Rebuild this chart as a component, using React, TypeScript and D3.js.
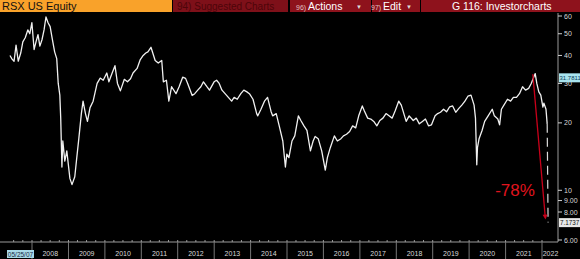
import React from "react";
import * as d3 from "d3";

const dates: string[] = [
  "2007-05-25","2007-06-15","2007-07-05","2007-07-25","2007-08-16","2007-09-10","2007-10-01","2007-10-25","2007-11-20","2007-12-10","2007-12-31",
  "2008-01-22","2008-02-10","2008-03-01","2008-03-20","2008-04-10","2008-05-01","2008-05-20","2008-06-10","2008-07-01","2008-07-20","2008-08-15","2008-09-05","2008-09-20","2008-10-06","2008-10-15","2008-10-27","2008-11-05","2008-11-25","2008-12-15",
  "2009-01-15","2009-02-05","2009-03-05","2009-03-25","2009-04-15","2009-05-10","2009-05-27","2009-06-20","2009-07-10","2009-08-05","2009-09-05","2009-10-15","2009-11-15","2009-12-15",
  "2010-01-20","2010-02-10","2010-03-10","2010-04-12","2010-05-07","2010-06-05","2010-07-15","2010-08-15","2010-09-15","2010-10-10","2010-11-20","2010-12-20",
  "2011-01-20","2011-02-15","2011-03-08","2011-04-08","2011-05-20","2011-06-20","2011-07-25","2011-08-10","2011-09-10","2011-10-04","2011-11-01","2011-12-15",
  "2012-01-15","2012-02-20","2012-03-20","2012-04-10","2012-05-25","2012-06-20","2012-07-20","2012-08-20","2012-09-15","2012-10-20","2012-11-15","2012-12-31",
  "2013-01-25","2013-02-20","2013-03-20","2013-04-20","2013-06-25","2013-07-20","2013-08-20","2013-09-25","2013-10-25","2013-11-25","2013-12-20",
  "2014-01-25","2014-03-03","2014-03-14","2014-04-15","2014-05-20","2014-06-20","2014-07-25","2014-08-10","2014-09-15","2014-10-15","2014-11-20","2014-12-16","2014-12-30",
  "2015-01-20","2015-02-20","2015-03-20","2015-04-25","2015-05-20","2015-06-20","2015-07-20","2015-08-24","2015-09-20","2015-10-10","2015-11-10","2015-12-15",
  "2016-01-20","2016-02-10","2016-03-10","2016-04-20","2016-05-20","2016-06-25","2016-07-20","2016-08-20","2016-09-20","2016-10-20","2016-11-20","2016-12-20",
  "2017-01-25","2017-02-15","2017-03-20","2017-04-20","2017-05-20","2017-06-20","2017-07-20","2017-08-20","2017-09-20","2017-10-20","2017-11-20","2017-12-20",
  "2018-01-25","2018-02-20","2018-04-10","2018-05-10","2018-06-20","2018-07-20","2018-08-20","2018-09-20","2018-10-20","2018-11-20","2018-12-20",
  "2019-01-25","2019-02-20","2019-03-20","2019-04-20","2019-05-20","2019-06-20","2019-07-20","2019-08-20","2019-09-20","2019-10-20","2019-11-20","2019-12-20",
  "2020-01-20","2020-02-20","2020-03-05","2020-03-18","2020-03-25","2020-04-10","2020-05-10","2020-06-05","2020-07-10","2020-08-20","2020-09-10","2020-10-15","2020-11-02","2020-11-20","2020-12-15",
  "2021-01-20","2021-02-20","2021-03-20","2021-04-20","2021-05-20","2021-06-20","2021-07-20","2021-08-20","2021-09-15","2021-10-25","2021-11-10","2021-11-30","2021-12-20",
  "2022-01-10","2022-01-20","2022-02-10","2022-02-22",
];

const prices: number[] = [
  40,38.5,37.7,44.5,37.7,41,46,48,52,50,56,
  42.5,46,49.5,44,47,52,59.4,56,53.8,48,41.5,38.7,30,26.6,21,12.7,16.6,13.5,15,
  11.3,10.6,11.5,14,17.1,22,25,22,20.3,23.4,25,30,31.7,31,
  33.4,30.5,33,36,30,27.8,31.3,30.5,31.5,33.4,35,38.2,
  40,41,41.5,43.5,38,37,38,30.5,31,25,29,27,
  29,32,31.6,30,26.5,27,28,29,30.5,29,28,30.5,
  31,30,28,27,25,26,25.5,27,28,27.5,27,
  25.5,22,21.5,23,25,26,22.5,21.5,22,19.4,16.6,12.7,14.5,
  14,16.6,17.5,21.5,20.5,19.4,18.5,15,16.6,17.4,17,15,
  12.3,14,15.5,17.5,16.6,17,17.5,17.8,18.3,19.4,19,21.5,
  23.8,22.6,21,20.8,20.3,19.4,20.5,21,22,21.5,21,22.6,
  25,24,20.3,21.5,20.5,21,19.8,20.3,20.8,19.4,19.6,
  21.5,22,22.3,23,22.4,23.6,23.8,22.3,23.2,24,25,26.3,
  26.6,24,21,13,15.5,17,18.5,20.3,21.5,23,21.5,20.8,19.6,23,24,
  25.5,25,26,26,27,29,28,28.5,30,33.2,30,27.5,26.6,
  23.5,24.5,23,19.8,
];

const crashDates: string[] = ["2022-02-22", "2022-03-03"];
const crashPrices: number[] = [19.8, 7.1737];

const yTicks: number[] = [60, 50, 40, 30, 20, 10, 9, 8, 6];
const yTickLabels: string[] = ["60", "50", "40", "30", "20", "10", "9.00", "8.00", "6.00"];
const years: number[] = [2008,2009,2010,2011,2012,2013,2014,2015,2016,2017,2018,2019,2020,2021,2022];

const arrowFrom = { date: "2021-10-01", price: 33 };
const arrowTo = { date: "2022-02-05", price: 7.4 };
const changeLabel = "-78%";
const lastLabel = "7.1737";
const cursorValue = 31.7811;

const W = 580, H = 259;

export default function App() {
  const parse = d3.timeParse("%Y-%m-%d");
  const x = d3.scaleTime().domain([new Date(2008, 0, 1), new Date(2022, 0, 1)]).range([32, 542]);
  const y = d3.scaleLog().domain([6, 60]).range([240, 16]);
  const pts = dates.map((d, i) => [x(parse(d) as Date), y(prices[i])] as [number, number]);
  const line = d3.line();
  const crashPts = crashDates.map((d, i) => [x(parse(d) as Date), y(crashPrices[i])] as [number, number]);

  const axisY = 242;
  const axisX = 558;
  const quarters = d3.timeMonth.every(3)!.range(new Date(2007, 6, 1), new Date(2022, 3, 1));

  const font = "'Liberation Sans', Arial, sans-serif";
  const ax1 = x(parse(arrowFrom.date) as Date), ay1 = y(arrowFrom.price);
  const ax2 = x(parse(arrowTo.date) as Date), ay2 = y(arrowTo.price);
  const ang = Math.atan2(ay2 - ay1, ax2 - ax1);
  const ah = 5;
  const head = [
    [ax2, ay2],
    [ax2 - ah * Math.cos(ang) + 2.5 * Math.sin(ang), ay2 - ah * Math.sin(ang) - 2.5 * Math.cos(ang)],
    [ax2 - ah * Math.cos(ang) - 2.5 * Math.sin(ang), ay2 - ah * Math.sin(ang) + 2.5 * Math.cos(ang)],
  ];

  return (
    <svg width={W} height={H} style={{ position: "absolute", left: 0, top: 0, display: "block" }} fontFamily={font}>
      <rect x={0} y={0} width={W} height={H} fill="#000" />
      {/* header */}
      <rect x={0} y={0} width={172} height={12} fill="#f9a22a" />
      <text x={2} y={10} fontSize={11} fill="#111">RSX US Equity</text>
      <rect x={173} y={0} width={115} height={12} fill="#7e1019" />
      <text x={177} y={10} fontSize={10} fill="#4d0509">94) Suggested Charts</text>
      <rect x={290} y={0} width={81} height={12} fill="#8e121c" />
      <text x={296} y={10} fontSize={7} fill="#e0c0c0">96)</text>
      <text x={308} y={10} fontSize={10.5} fill="#fff">Actions</text>
      <text x={356} y={9} fontSize={6} fill="#ddd">▼</text>
      <rect x={372} y={0} width={48} height={12} fill="#8e121c" />
      <text x={371} y={10} fontSize={7} fill="#e0c0c0">97)</text>
      <text x={383} y={10} fontSize={10.5} fill="#fff">Edit</text>
      <text x={406} y={9} fontSize={6} fill="#ddd">▼</text>
      <rect x={421} y={0} width={159} height={12} fill="#8e121c" />
      <text x={452} y={10} fontSize={10.5} fill="#fff">G 116: Investorcharts</text>

      {/* axes */}
      <line x1={0} x2={axisX} y1={axisY} y2={axisY} stroke="#9a9a9a" strokeWidth={1} />
      <line x1={axisX} x2={axisX} y1={13} y2={axisY} stroke="#9a9a9a" strokeWidth={1} />
      {quarters.map((q, i) => (
        <line key={"q" + i} x1={x(q)} x2={x(q)} y1={axisY - 2} y2={axisY} stroke="#9a9a9a" strokeWidth={1} />
      ))}
      {years.map((yr) => (
        <line key={"d" + yr} x1={x(new Date(yr, 0, 1))} x2={x(new Date(yr, 0, 1))} y1={axisY} y2={H} stroke="#777" strokeWidth={1} />
      ))}
      {years.map((yr) => {
        const x0 = x(new Date(yr, 0, 1));
        const x1 = yr === 2022 ? 559 : x(new Date(yr + 1, 0, 1));
        return (
          <text key={"l" + yr} x={(x0 + x1) / 2} y={256} fontSize={7} fill="#d8d8d8" textAnchor="middle">{yr}</text>
        );
      })}
      <rect x={7} y={250} width={27} height={8} fill="#a8d8e8" />
      <text x={20.5} y={256.5} fontSize={6.5} fill="#1a2a40" textAnchor="middle">05/25/07</text>

      {yTicks.map((t, i) => (
        <g key={"y" + t}>
          <line x1={axisX} x2={axisX + 4} y1={y(t)} y2={y(t)} stroke="#cfcfcf" strokeWidth={1} />
          <text x={axisX + 6} y={y(t) + 2.5} fontSize={7} fill="#d8d8d8">{yTickLabels[i]}</text>
        </g>
      ))}

      {/* price line */}
      <path d={line(pts) || ""} fill="none" stroke="#f0f0f0" strokeWidth={1.3} strokeLinejoin="round" />
      <path d={line(crashPts) || ""} fill="none" stroke="#dcdcdc" strokeWidth={1.2} strokeDasharray="9,5" />

      {/* annotation */}
      <line x1={ax1} y1={ay1} x2={ax2 - 3 * Math.cos(ang)} y2={ay2 - 3 * Math.sin(ang)} stroke="#c8001a" strokeWidth={1.3} />
      <polygon points={head.map((p) => p.join(",")).join(" ")} fill="#c8001a" />
      <text x={515} y={196} fontSize={17} fill="#e0141e" textAnchor="middle">{changeLabel}</text>

      {/* value labels */}
      <rect x={559} y={y(cursorValue) - 4.5} width={21} height={9} fill="#a8e4ef" />
      <text x={559.5} y={y(cursorValue) + 2.3} fontSize={6} fill="#0b3a55">{cursorValue.toFixed(4)}</text>
      <rect x={559} y={y(7.1737) - 4.5} width={21} height={9} fill="#e8e8e8" />
      <text x={560} y={y(7.1737) + 2.3} fontSize={6.3} fill="#111">{lastLabel}</text>
    </svg>
  );
}
